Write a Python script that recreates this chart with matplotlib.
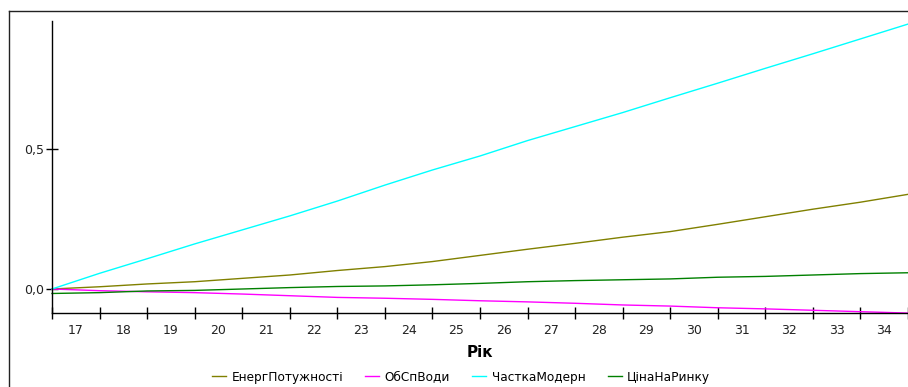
import matplotlib
matplotlib.use("Agg")
import matplotlib.pyplot as plt
from matplotlib.lines import Line2D
from matplotlib.ticker import FixedLocator, NullFormatter

plt.rcParams['font.family'] = ['DejaVu Sans']

years = list(range(17, 36))
year_labels = [str(y) for y in range(17, 35)]

energ = [0.0, 0.008, 0.018, 0.026, 0.038, 0.050, 0.066, 0.080, 0.098, 0.120,
         0.142, 0.163, 0.185, 0.205, 0.231, 0.258, 0.285, 0.310, 0.338]
obsp = [0.0, -0.006, -0.010, -0.013, -0.018, -0.024, -0.030, -0.033, -0.037, -0.042,
        -0.046, -0.051, -0.057, -0.061, -0.067, -0.071, -0.076, -0.081, -0.086]
chastka = [0.0, 0.056, 0.108, 0.161, 0.211, 0.261, 0.314, 0.371, 0.425, 0.475,
           0.530, 0.580, 0.630, 0.683, 0.735, 0.788, 0.840, 0.893, 0.946]
tsina = [-0.016, -0.013, -0.007, -0.005, 0.0, 0.005, 0.009, 0.011, 0.015, 0.020,
         0.026, 0.030, 0.033, 0.036, 0.042, 0.045, 0.050, 0.055, 0.058]

series = [("ЕнергПотужності", energ, "#808000"),
          ("ОбСпВоди", obsp, "#ff00ff"),
          ("ЧасткаМодерн", chastka, "#00ffff"),
          ("ЦінаНаРинку", tsina, "#008000")]

W, H = 908, 387
fig = plt.figure(figsize=(W / 100, H / 100), dpi=100)
ax = fig.add_axes([52 / W, 1 - 313 / H, (908 - 52) / W, (313 - 21) / H])

handles = []
for name, vals, col in series:
    h, = ax.plot(years, vals, color=col, lw=1.0, label=name, clip_on=False)
    handles.append(h)

ax.set_xlim(17, 35)
ax.set_ylim(-0.0857, 0.957)

for s in ["top", "right"]:
    ax.spines[s].set_visible(False)
for s in ["left", "bottom"]:
    ax.spines[s].set_linewidth(1.0)
    ax.spines[s].set_color("black")

ax.set_yticks([0.0, 0.5])
ax.set_yticklabels(["0,0", "0,5"], fontsize=9, color="#222222")
ax.tick_params(axis="y", direction="inout", length=8, width=1, pad=2)

ax.xaxis.set_major_locator(FixedLocator(years))
ax.xaxis.set_major_formatter(NullFormatter())
ax.xaxis.set_minor_locator(FixedLocator([y + 0.5 for y in range(17, 35)]))
ax.set_xticklabels(year_labels, minor=True, fontsize=9, color="#222222")
ax.tick_params(axis="x", which="major", direction="inout", length=8, width=1)
ax.tick_params(axis="x", which="minor", length=0, pad=8)

ax.set_xlabel("Рік", fontsize=11, fontweight="bold", labelpad=6)

fig.legend(handles=handles, loc="center", bbox_to_anchor=(461 / W, 1 - 377 / H),
           ncol=4, frameon=False, fontsize=8.7, handlelength=1.15, handletextpad=0.45,
           columnspacing=1.85, borderaxespad=0, borderpad=0)

# outer frame (top and left edges visible)
fig.add_artist(Line2D([9 / W, 1.0], [1 - 11 / H, 1 - 11 / H], transform=fig.transFigure,
                      color="#222222", lw=1.0))
fig.add_artist(Line2D([9 / W, 9 / W], [0, 1 - 11 / H], transform=fig.transFigure,
                      color="#222222", lw=1.0))

fig.savefig("out.png", dpi=100)
